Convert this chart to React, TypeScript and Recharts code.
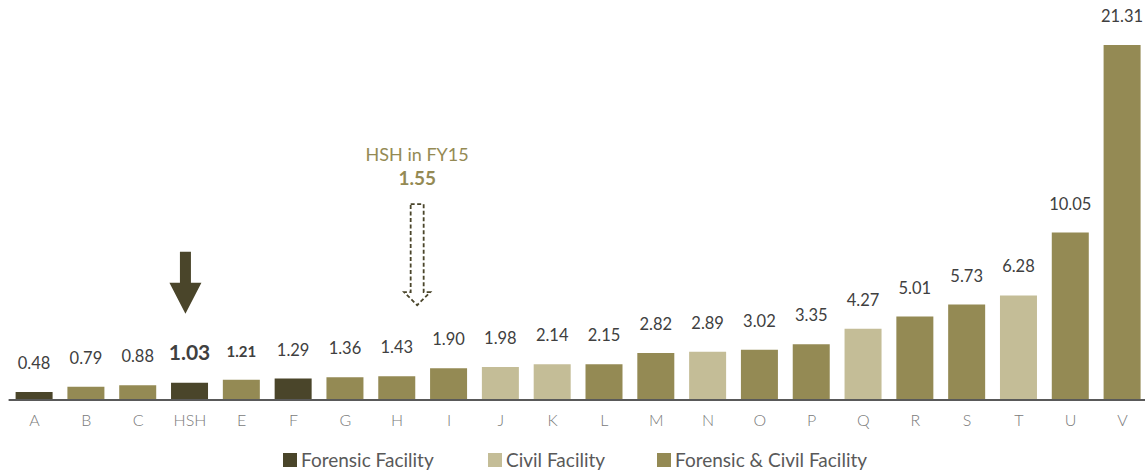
import React from "react";
import { BarChart, Bar, XAxis, YAxis, Cell, LabelList, Legend, ReferenceDot } from "recharts";

const categories = ["A", "B", "C", "HSH", "E", "F", "G", "H", "I", "J", "K", "L", "M", "N", "O", "P", "Q", "R", "S", "T", "U", "V"];
const values = [0.48, 0.79, 0.88, 1.03, 1.21, 1.29, 1.36, 1.43, 1.9, 1.98, 2.14, 2.15, 2.82, 2.89, 3.02, 3.35, 4.27, 5.01, 5.73, 6.28, 10.05, 21.31];
const facilityTypes = ["F", "FC", "FC", "F", "FC", "F", "FC", "FC", "FC", "C", "C", "FC", "FC", "C", "FC", "FC", "C", "FC", "FC", "C", "FC", "FC"];
const legendLabels = ["Forensic Facility", "Civil Facility", "Forensic & Civil Facility"];
const legendKeys = ["F", "C", "FC"];
const hshFY15Value = 1.55;
const hshFY15Label = "HSH in FY15";

const COLORS: Record<string, string> = { F: "#4A452A", C: "#C4BD97", FC: "#948A54" };
const LEGEND_LEFT = [283, 488, 657];
const FONT = "Lato, 'Open Sans', sans-serif";

const data = categories.map((name, i) => ({ name, value: values[i], type: facilityTypes[i] }));

const ValueLabel = (props: any) => {
  const { x, y, width, value, index } = props;
  const name = categories[index];
  let size = 16.5;
  let weight = 400;
  if (name === "HSH") { size = 21; weight = 700; }
  if (name === "E") { size = 15; weight = 700; }
  return (
    <text x={x + width / 2} y={y - 23} textAnchor="middle" fill="#404040" fontFamily={FONT} fontSize={size} fontWeight={weight}>
      {Number(value).toFixed(2)}
    </text>
  );
};

const Tick = (props: any) => {
  const { x, y, payload } = props;
  return (
    <text x={x} y={y} dy={26} textAnchor="middle" fill="#7a7a7a" fontFamily={FONT} fontSize={16} fontWeight={300}>
      {payload.value}
    </text>
  );
};

const SolidArrow = (props: any) => {
  const { cx, cy } = props;
  const c = cx - 4.5;
  const d = `M${c - 5.5},${cy - 131} L${c + 5.5},${cy - 131} L${c + 5.5},${cy - 100} L${c + 16},${cy - 100} L${c},${cy - 69} L${c - 16},${cy - 100} L${c - 5.5},${cy - 100} Z`;
  return <path d={d} fill="#4A452A" stroke="none" />;
};

const DashedArrow = (props: any) => {
  const { cx, cy } = props;
  const c = cx + 20;
  const d = `M${c - 6.5},${cy - 170} L${c + 6.5},${cy - 170} L${c + 6.5},${cy - 82} L${c + 13},${cy - 82} L${c},${cy - 69} L${c - 13},${cy - 82} L${c - 6.5},${cy - 82} Z`;
  return (
    <g>
      <text x={c} y={cy - 213.5} textAnchor="middle" fill="#948A54" fontFamily={FONT} fontSize={18}>
        {hshFY15Label}
      </text>
      <text x={c} y={cy - 189} textAnchor="middle" fill="#948A54" fontFamily={FONT} fontSize={19} fontWeight={700}>
        {hshFY15Value.toFixed(2)}
      </text>
      <path d={d} fill="none" stroke="#4A452A" strokeWidth={1.8} strokeDasharray="4 2.5" />
    </g>
  );
};

const LegendContent = () => (
  <div style={{ position: "relative", height: 42, width: 1145 }}>
    {legendKeys.map((k, i) => (
      <div key={k} style={{ position: "absolute", left: LEGEND_LEFT[i], top: 20, display: "flex", alignItems: "center", whiteSpace: "nowrap" }}>
        <span style={{ display: "inline-block", width: 14, height: 14, background: COLORS[k], marginRight: 4 }} />
        <span style={{ fontFamily: FONT, fontSize: 19, color: "#595959", lineHeight: "20px" }}>{legendLabels[i]}</span>
      </div>
    ))}
  </div>
);

export default function App() {
  return (
    <div style={{ width: 1145, height: 472, overflow: "hidden", position: "relative" }}>
      <style>{"html,body{margin:0;padding:0;overflow:hidden;}"}</style>
      <BarChart width={1145} height={472} data={data} margin={{ top: 33.5, right: -3.4, bottom: 0, left: 8.6 }}>
        <XAxis
          dataKey="name"
          interval={0}
          tickLine={false}
          tickSize={0}
          tickMargin={0}
          height={30}
          axisLine={{ stroke: "#595959", strokeWidth: 2 }}
          tick={<Tick />}
        />
        <YAxis hide domain={[0, 22]} />
        <Legend verticalAlign="bottom" content={<LegendContent />} wrapperStyle={{ left: 0, width: 1145 }} />
        <Bar dataKey="value" barSize={37} isAnimationActive={false}>
          {data.map((d, i) => (
            <Cell key={i} fill={COLORS[d.type]} />
          ))}
          <LabelList dataKey="value" content={<ValueLabel />} />
        </Bar>
        <ReferenceDot x="HSH" y={values[3]} shape={<SolidArrow />} />
        <ReferenceDot x="H" y={hshFY15Value} shape={<DashedArrow />} />
      </BarChart>
    </div>
  );
}
